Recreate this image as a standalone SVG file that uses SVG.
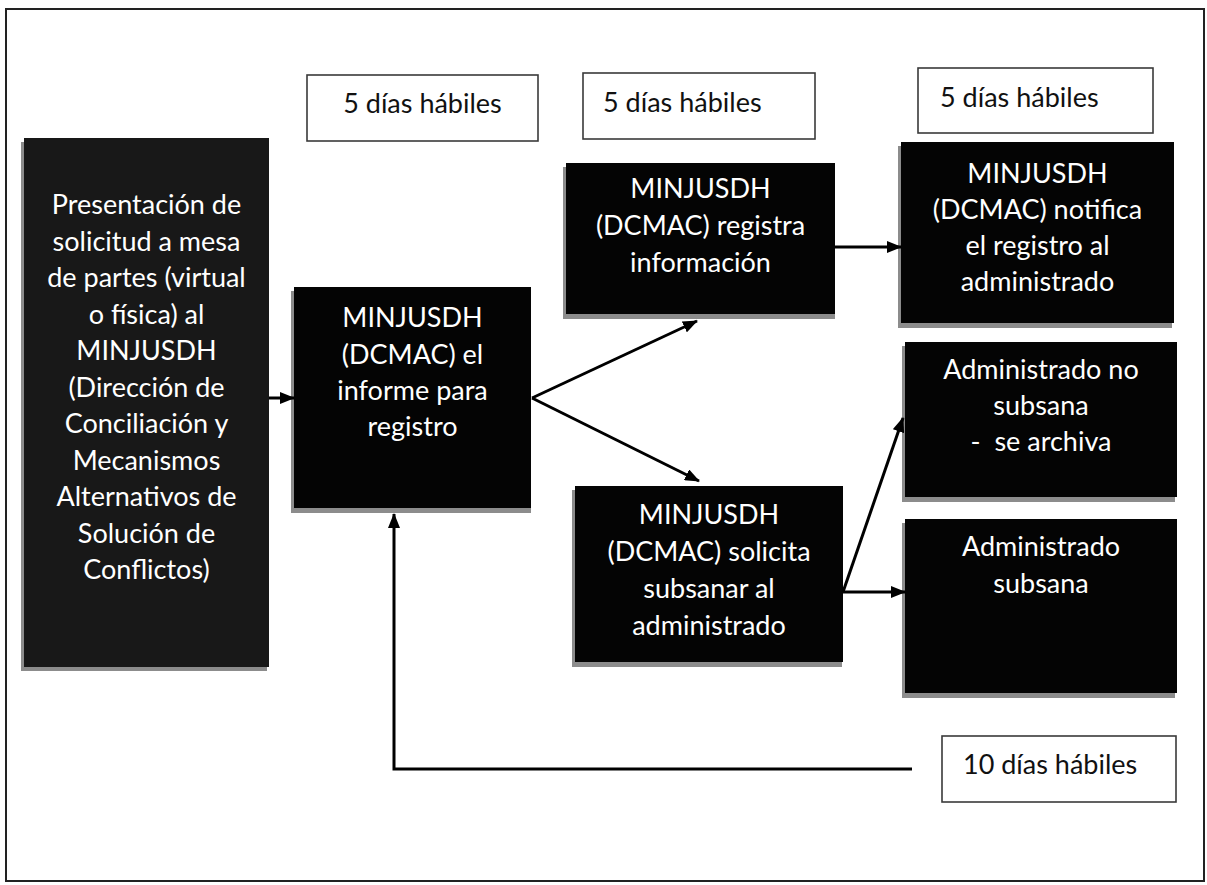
<svg xmlns="http://www.w3.org/2000/svg" width="1207" height="885" viewBox="0 0 1207 885">
<defs>
<style>
.t{font-family:Lato,"Liberation Sans",sans-serif;font-size:27px}
.c{text-anchor:middle}
.w{fill:#ffffff}
.k{fill:#111111}
.box{fill:#040404}
.sh{fill:#8c8c8c}
.lbl{fill:#ffffff;stroke:#3a3a3a;stroke-width:1.6}
.ln{stroke:#000;stroke-width:3;fill:none}
</style>
<marker id="ah" markerWidth="15" markerHeight="12" refX="14" refY="6" orient="auto" markerUnits="userSpaceOnUse">
<path d="M0,0 L15,6 L0,12 z" fill="#000"/>
</marker>
</defs>
<rect x="0" y="0" width="1207" height="885" fill="#fff"/>
<rect x="6" y="9" width="1198" height="872" fill="none" stroke="#222" stroke-width="2"/>

<g id="lbl1"><rect class="lbl" x="307" y="75" width="231" height="66"/><text class="t c k" x="422.5" y="113">5 días hábiles</text></g>
<g id="lbl2"><rect class="lbl" x="583" y="73" width="232" height="66"/><text class="t k" x="603" y="112">5 días hábiles</text></g>
<g id="lbl3"><rect class="lbl" x="918" y="68" width="235" height="65"/><text class="t k" x="940" y="107">5 días hábiles</text></g>
<g id="lbl4"><rect class="lbl" x="942" y="736" width="234" height="66"/><text class="t k" x="963" y="774">10 días hábiles</text></g>

<g id="n1"><rect class="sh" x="21" y="142" width="246" height="529"/><rect x="24" y="138" width="245" height="529" fill="#181818"/>
<text class="t c w"><tspan x="146.5" y="214">Presentación de</tspan><tspan x="146.5" y="250.5">solicitud a mesa</tspan><tspan x="146.5" y="287">de partes (virtual</tspan><tspan x="146.5" y="323.5">o física) al</tspan><tspan x="146.5" y="360">MINJUSDH</tspan><tspan x="146.5" y="396.5">(Dirección de</tspan><tspan x="146.5" y="433">Conciliación y</tspan><tspan x="146.5" y="469.5">Mecanismos</tspan><tspan x="146.5" y="506">Alternativos de</tspan><tspan x="146.5" y="542.5">Solución de</tspan><tspan x="146.5" y="579">Conflictos)</tspan></text></g>

<g id="n2"><rect class="sh" x="291" y="291" width="240" height="222"/><rect class="box" x="294" y="287" width="237" height="221"/>
<text class="t c w"><tspan x="412.5" y="327">MINJUSDH</tspan><tspan x="412.5" y="363.5">(DCMAC) el</tspan><tspan x="412.5" y="400">informe para</tspan><tspan x="412.5" y="436">registro</tspan></text></g>

<g id="n3"><rect class="sh" x="563" y="167" width="272" height="152"/><rect class="box" x="566" y="163" width="269" height="151"/>
<text class="t c w"><tspan x="700.5" y="198">MINJUSDH</tspan><tspan x="700.5" y="235">(DCMAC) registra</tspan><tspan x="700.5" y="272">información</tspan></text></g>

<g id="n4"><rect class="sh" x="898" y="146" width="274" height="182"/><rect class="box" x="901" y="142" width="273" height="181"/>
<text class="t c w"><tspan x="1037.5" y="183">MINJUSDH</tspan><tspan x="1037.5" y="219">(DCMAC) notifica</tspan><tspan x="1037.5" y="255">el registro al</tspan><tspan x="1037.5" y="291">administrado</tspan></text></g>

<g id="n5"><rect class="sh" x="902" y="346" width="273" height="156"/><rect class="box" x="905" y="342" width="272" height="155"/>
<text class="t c w"><tspan x="1041" y="379">Administrado no</tspan><tspan x="1041" y="415">subsana</tspan><tspan x="1041" y="451" xml:space="preserve">-  se archiva</tspan></text></g>

<g id="n6"><rect class="sh" x="902" y="523" width="273" height="175"/><rect class="box" x="905" y="519" width="272" height="174"/>
<text class="t c w"><tspan x="1041" y="556">Administrado</tspan><tspan x="1041" y="593">subsana</tspan></text></g>

<g id="n7"><rect class="sh" x="572" y="490" width="270" height="177"/><rect class="box" x="575" y="486" width="268" height="176"/>
<text class="t c w"><tspan x="709" y="524">MINJUSDH</tspan><tspan x="709" y="561">(DCMAC) solicita</tspan><tspan x="709" y="598">subsanar al</tspan><tspan x="709" y="635">administrado</tspan></text></g>

<g id="connectors">
<line class="ln" x1="269" y1="398" x2="294" y2="398" marker-end="url(#ah)"/>
<line class="ln" x1="532" y1="398" x2="697" y2="321" marker-end="url(#ah)"/>
<line class="ln" x1="532" y1="398" x2="699" y2="481" marker-end="url(#ah)"/>
<line class="ln" x1="835" y1="247" x2="901" y2="247" marker-end="url(#ah)"/>
<line class="ln" x1="843" y1="592" x2="903" y2="418" marker-end="url(#ah)"/>
<line class="ln" x1="843" y1="592" x2="905" y2="592" marker-end="url(#ah)"/>
<polyline class="ln" points="912,769 394,769 394,514" marker-end="url(#ah)"/>
</g>
</svg>
